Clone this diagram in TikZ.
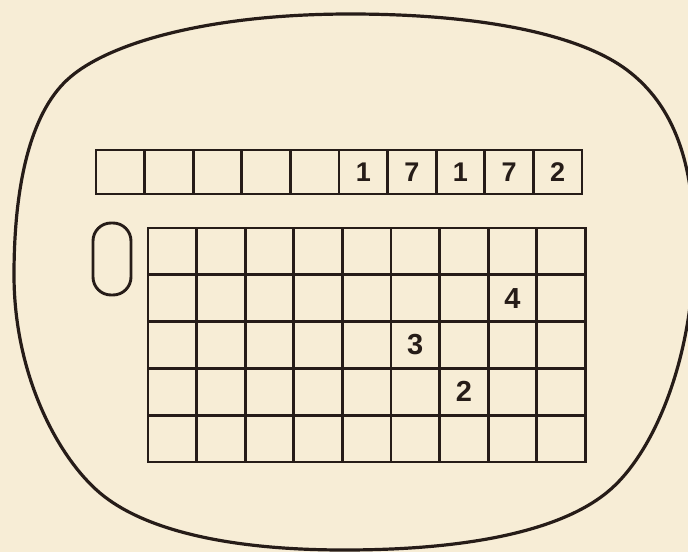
\documentclass[tikz,border=0pt]{standalone}
\usepackage{fontspec}
\setmainfont{Liberation Sans}
\usetikzlibrary{positioning}

\definecolor{paper}{RGB}{247,237,214}
\definecolor{ink}{RGB}{38,28,24}

\begin{document}
\begin{tikzpicture}[
  x=1pt, y=-1pt,
  box/.style={draw=ink, line width=2.9pt, minimum width=48.6pt,
    minimum height=44pt, inner sep=0pt, outer sep=0pt},
  cell/.style={draw=ink, line width=2.9pt, minimum width=48.6pt,
    minimum height=46.8pt, inner sep=0pt, outer sep=0pt},
  digit/.style={text=ink, inner sep=0pt, font=\fontsize{27}{27}\selectfont\bfseries},
  numeral/.style={text=ink, inner sep=0pt, font=\fontsize{29}{29}\selectfont\bfseries},
  knob/.style={draw=ink, line width=2.9pt, rounded corners=18pt,
    minimum width=38pt, minimum height=72pt, inner sep=0pt}
]
  %------------------------------------------------------------
  %  PARAMETERS
  %------------------------------------------------------------
  \def\rowx{96}      % left edge of the counter row
  \def\rowy{172}     % centre line of the counter row
  \def\gridx{148}    % left edge of the board
  \def\gridy{228}    % top edge of the board
  \def\cw{48.6}      % cell width
  \def\ch{46.8}      % board row height

  \fill[paper] (0,0) rectangle (688,552);
  \useasboundingbox (0,0) rectangle (688,552);

  %------------------------------------------------------------
  %  SCREEN OUTLINE
  %------------------------------------------------------------
  \draw[ink, line width=3.2pt]
    (350,14) .. controls (480,14) and (579,34) .. (627,70)
    .. controls (675,106) and (694,165) .. (694,245)
    .. controls (694,355) and (656,449) .. (611,489)
    .. controls (566,529) and (474,550) .. (344,550)
    .. controls (224,550) and (142,528.5) .. (100,493)
    .. controls (58,457.5) and (14,375) .. (14,275)
    .. controls (14,185) and (30.5,114) .. (67,80)
    .. controls (107,42.6) and (210,14) .. cycle;

  %------------------------------------------------------------
  %  COUNTER ROW (10 boxes)
  %------------------------------------------------------------
  \foreach \i/\d in {1/{},2/{},3/{},4/{},5/{},6/1,7/7,8/1,9/7,10/2} {
    \node[box] (c\i) at ({\rowx+\cw*(\i-0.5)},\rowy) {};
    \node[digit] (t\i) at (c\i.center) {\d};
  }

  %------------------------------------------------------------
  %  KNOB
  %------------------------------------------------------------
  \node[knob] (knob) at (112,259) {};

  %------------------------------------------------------------
  %  BOARD (9 x 5)
  %------------------------------------------------------------
  \foreach \r in {1,...,5} {
    \foreach \c in {1,...,9} {
      \node[cell] (g\r\c) at ({\gridx+\cw*(\c-0.5)},{\gridy+\ch*(\r-0.5)}) {};
    }
  }

  \node[numeral] (n4) at (g28.center) {4};
  \node[numeral] (n3) at (g36.center) {3};
  \node[numeral] (n2) at (g47.center) {2};

\end{tikzpicture}
\end{document}
